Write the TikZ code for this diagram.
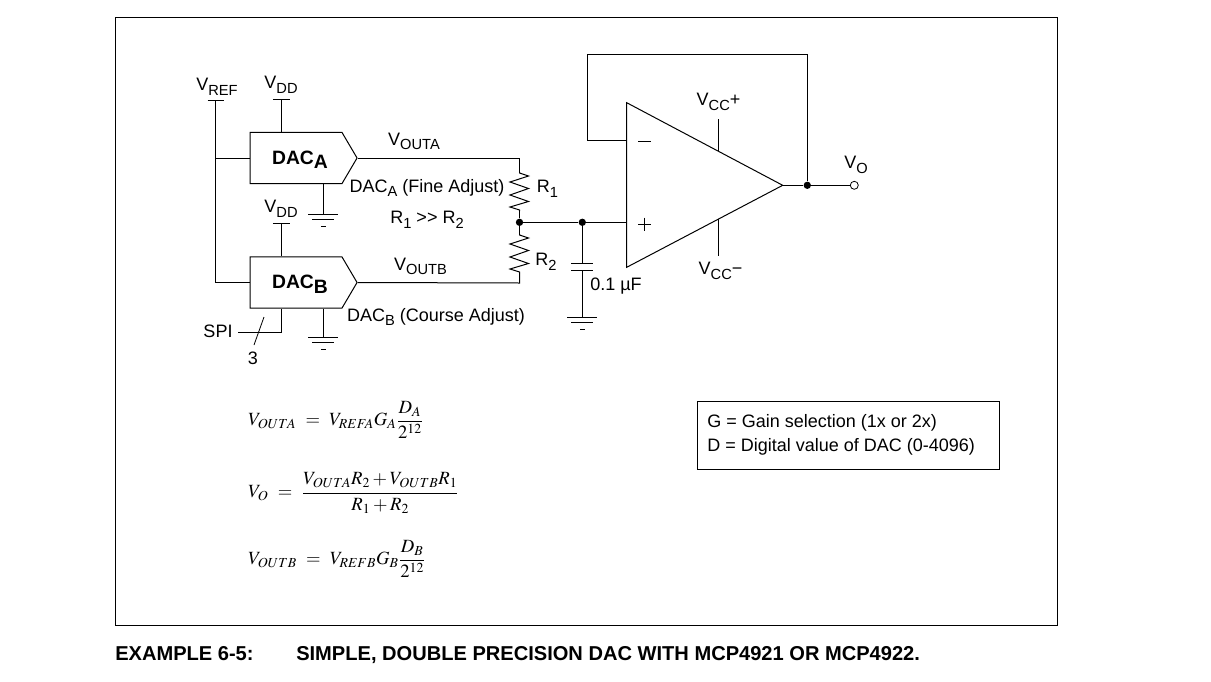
\documentclass[tikz,border=0pt]{standalone}
\usepackage{amsmath}
\usepackage{mathptmx}
\usepackage[no-math]{fontspec}
\setmainfont{Liberation Sans}
\usetikzlibrary{shapes.symbols}
\newcommand{\sbs}[1]{\raisebox{-3.5pt}{\fontsize{11}{12}\selectfont #1}}
\newcommand{\dacsub}[1]{\raisebox{-3.5pt}{#1}}
\tikzset{
  wire/.style={draw, line width=0.75pt},
  lbl/.style={inner sep=0pt, font=\fontsize{13.5}{16}\selectfont},
  dacbox/.style={draw, line width=0.75pt, signal, signal to=east, signal pointer angle=119, minimum width=80.25pt, minimum height=38.5pt, inner sep=0pt, font=\fontsize{14.5}{16}\selectfont\bfseries},
  dotn/.style={circle, fill=black, inner sep=0pt, minimum size=5.5pt},
  opendot/.style={circle, draw, fill=white, line width=0.6pt, inner sep=0pt, minimum size=6pt},
  eqn/.style={inner sep=0pt, anchor=west, font=\fontsize{14}{16}\selectfont},
  gnd/.pic={\draw[line width=0.75pt] (-15,0) -- (15,0) (-11,5) -- (11,5) (-2.2,12.5) -- (2.2,12.5);},
  res/.pic={\draw[line width=0.75pt] (0,0) -- (0,1) -- (9,4) -- (-9.5,10) -- (9,16.5) -- (-9.5,23) -- (9,29.5) -- (-9.5,35) -- (0,38) -- (0,39);}
}
\begin{document}
\begin{tikzpicture}[x=0.75pt, y=-0.75pt]
    \useasboundingbox (0,0) rectangle (1211,682);
    % Frame
    \coordinate (frameA) at (115,17);
    \coordinate (frameB) at (1057,625);
    \draw[line width=0.6pt] (frameA) rectangle (frameB);

    % DACs
    \node[dacbox] (dacA) at (296,158) {\raisebox{0pt}[9pt][0pt]{\hspace{6pt}DAC\dacsub{A}}};
    \node[dacbox] (dacB) at (296,282.5) {\raisebox{0pt}[9pt][0pt]{\hspace{6pt}DAC\dacsub{B}}};

    % Supply pins
    \coordinate (vref) at (215.7,100);
    \coordinate (vddA) at (281.3,99.3);
    \coordinate (vddB) at (281.3,223.3);
    \coordinate (refJ) at (215.7,158);
    \coordinate (refB) at (215.7,282.5);
    \draw[wire] (vref) ++(-8,0) -- ++(16,0);
    \draw[wire] (vddA) ++(-8.5,0) -- ++(17,0);
    \draw[wire] (vddB) ++(-8.5,0) -- ++(17,0);
    \draw[wire] (vref) -- (refB) -- (dacB.west);
    \draw[wire] (refJ) -- (dacA.west);
    \draw[wire] (vddA) -- (vddA |- dacA.north);
    \draw[wire] (vddB) -- (vddB |- dacB.north);

    % Grounds
    \coordinate (gndA) at (323.3,214.3);
    \coordinate (gndB) at (323.3,337);
    \coordinate (gndC) at (582.3,317);
    \draw[wire] (dacA.south -| gndA) -- (gndA);
    \draw[wire] (dacB.south -| gndB) -- (gndB);
    \pic at (gndA) {gnd};
    \pic at (gndB) {gnd};
    \pic at (gndC) {gnd};

    % SPI
    \coordinate (spiL) at (238,332);
    \coordinate (spiC) at (281.3,332);
    \coordinate (slashT) at (264,317);
    \coordinate (slashB) at (254,345);
    \draw[wire] (spiL) -- (spiC) -- (spiC |- dacB.south);
    \draw[line width=0.6pt] (slashT) -- (slashB);

    % Resistors
    \node[dotn] (midJ) at (519.5,222.3) {};
    \node[dotn] (capJ) at (582.3,222.3) {};
    \coordinate (r1T) at (519.5,172);
    \coordinate (r1B) at (519.5,211);
    \coordinate (r2T) at (519.5,234);
    \coordinate (r2B) at (519.5,273);
    \coordinate (outA) at (519.5,158);
    \coordinate (outB) at (519.5,283);
    \pic at (r1T) {res};
    \pic at (r2T) {res};
    \draw[wire] (dacA.east) -- (outA) -- (r1T);
    \draw[wire] (dacB.east) -- (outB) -- (r2B);
    \draw[wire] (r1B) -- (midJ) -- (r2T);

    % Capacitor
    \coordinate (capT) at (582.3,263.3);
    \coordinate (capB) at (582.3,270);
    \draw[wire] (capJ) -- (capT);
    \draw[wire] (capB) -- (gndC);
    \draw[wire] (capT) ++(-11,0) -- ++(22,0);
    \draw[wire] (capB) ++(-11,0) -- ++(22,0);

    % Op amp
    \coordinate (opT) at (626.7,102.7);
    \coordinate (opB) at (626.7,267.3);
    \coordinate (opO) at (782.7,185.3);
    \coordinate (opM) at (626.7,140);
    \coordinate (opP) at (626.7,222.3);
    \draw[wire, line join=miter] (opT) -- (opO) -- (opB) -- cycle;
    \draw[wire] (midJ) -- (capJ) -- (opP);
    \coordinate (fbA) at (587.3,140);
    \coordinate (fbB) at (587.3,54.3);
    \coordinate (fbC) at (807.3,54.3);
    \node[dotn] (outJ) at (807.3,185.3) {};
    \node[opendot] (vo) at (854.3,185.3) {};
    \draw[wire] (opM) -- (fbA) -- (fbB) -- (fbC) -- (outJ);
    \draw[wire] (opO) -- (outJ) -- (vo);
    \coordinate (vccPa) at (718.3,119.3);
    \coordinate (vccPb) at (718.3,151);
    \coordinate (vccMa) at (718.3,219.3);
    \coordinate (vccMb) at (718.3,255.7);
    \draw[wire] (vccPa) -- (vccPb);
    \draw[wire] (vccMa) -- (vccMb);
    \draw[wire] (638,141) -- (650.7,141);
    \draw[wire] (638,224) -- (651,224) (644.4,217.5) -- (644.4,230.5);

    % Labels
    \node[lbl] (lvref) at (217,86.5) {V\sbs{REF}};
    \node[lbl] (lvdda) at (281,84.5) {V\sbs{DD}};
    \node[lbl] (lvddb) at (281,208.5) {V\sbs{DD}};
    \node[lbl] (louta) at (414,141.5) {V\sbs{OUTA}};
    \node[lbl] (loutb) at (420.5,266.5) {V\sbs{OUTB}};
    \node[lbl] (lfine) at (427,188) {DAC\sbs{A} (Fine Adjust)};
    \node[lbl] (lrr) at (427,220) {R\sbs{1} {>}{>} R\sbs{2}};
    \node[lbl] (lcourse) at (436,317) {DAC\sbs{B} (Course Adjust)};
    \node[lbl] (lr1) at (547.5,189) {R\sbs{1}};
    \node[lbl] (lr2) at (546,262) {R\sbs{2}};
    \node[lbl] (lcap) at (616,286) {0.1 µF};
    \node[lbl] (lspi) at (218,331) {SPI};
    \node[lbl] (lthree) at (253,358) {3};
    \node[lbl] (lvccp) at (718.5,102) {V\sbs{CC}+};
    \node[lbl] (lvccm) at (720.5,271) {V\sbs{CC}−};
    \node[lbl] (lvo) at (856,165) {V\sbs{O}};

    % Equations
    \node[eqn] (eqA) at (248,420) {$V_{OUTA}\ =\ V_{REFA}G_A\dfrac{D_A}{2^{12}}$};
    \node[eqn] (eqO) at (248,493) {$V_O\ =\ \dfrac{V_{OUTA}R_2+V_{OUTB}R_1}{R_1+R_2}$};
    \node[eqn] (eqB) at (248,559) {$V_{OUTB}\ =\ V_{REFB}G_B\dfrac{D_B}{2^{12}}$};

    % Legend
    \node[draw, line width=0.6pt, minimum width=226.5pt, minimum height=51pt, inner sep=0pt, anchor=north west] (legend) at (697,401) {};
    \node[lbl, anchor=west] (legG) at (707,423) {G = Gain selection (1x or 2x)};
    \node[lbl, anchor=west] (legD) at (707,447) {D = Digital value of DAC (0-4096)};

    % Caption
    \node[lbl, anchor=base west, font=\fontsize{15.06}{18}\selectfont\bfseries] (capL) at (115,660) {EXAMPLE 6-5:};
    \node[lbl, anchor=base west, font=\fontsize{15.06}{18}\selectfont\bfseries] (capR) at (296,660) {SIMPLE, DOUBLE PRECISION DAC WITH MCP4921 OR MCP4922.};
\end{tikzpicture}
\end{document}
